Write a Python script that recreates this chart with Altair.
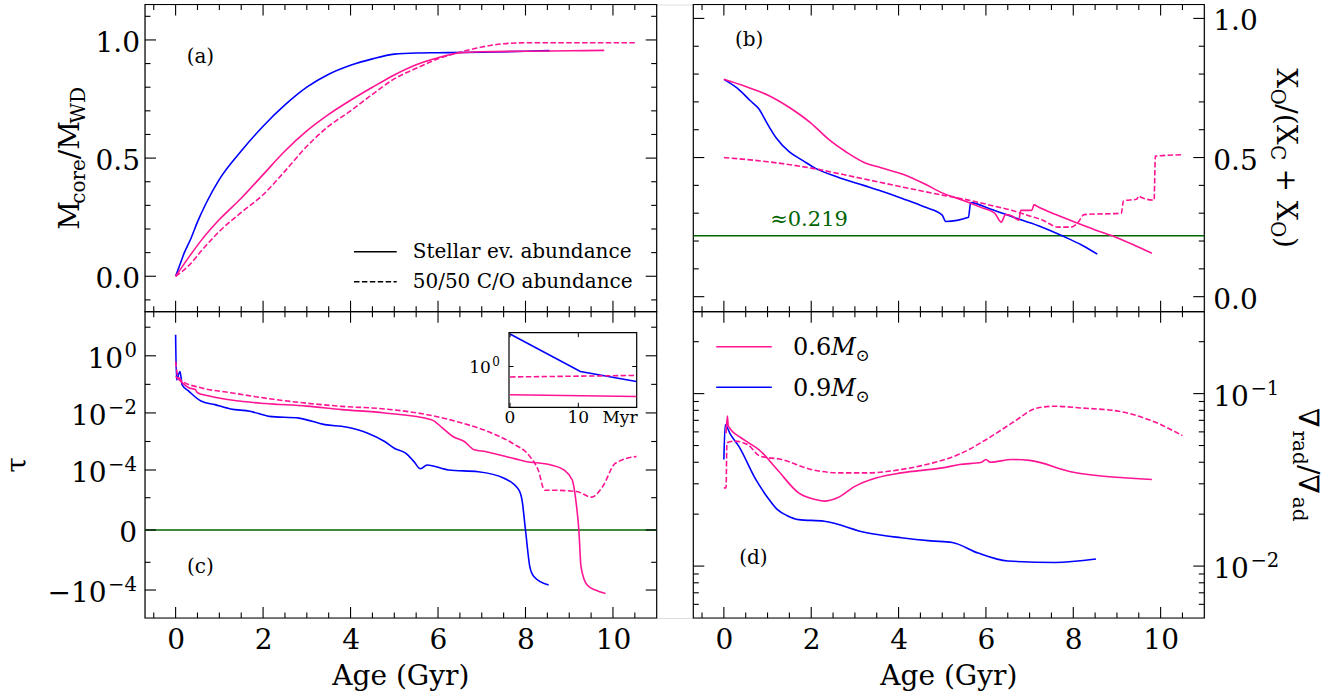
import altair as alt
import pandas as pd

# ======================= DATA =======================
AGE_MAJOR = [0, 2, 4, 6, 8, 10]
AGE_MINOR = [-0.5, 0.5, 1, 1.5, 2.5, 3, 3.5, 4.5, 5, 5.5, 6.5, 7, 7.5, 8.5, 9, 9.5, 10.5]

# (a) M_core / M_WD
A_BLUE_X = [0, 0.1, 0.2, 0.35, 0.5, 0.7, 1.0, 1.5, 2.0, 2.5, 3.0, 3.5, 4.0, 4.5, 5.0, 5.5, 6.0, 7.0, 8.0, 8.55]
A_BLUE_Y = [0, 0.05, 0.10, 0.16, 0.23, 0.31, 0.41, 0.53, 0.635, 0.725, 0.80, 0.855, 0.893, 0.92, 0.94, 0.945, 0.946, 0.948, 0.952, 0.955]
A_PINK_X = [0, 0.3, 0.6, 1.0, 1.5, 2.0, 2.5, 3.0, 3.5, 4.0, 4.5, 5.0, 5.5, 6.0, 6.5, 7.0, 8.0, 9.0, 9.8]
A_PINK_Y = [0, 0.08, 0.155, 0.24, 0.33, 0.43, 0.53, 0.615, 0.685, 0.745, 0.80, 0.852, 0.895, 0.925, 0.946, 0.95, 0.952, 0.954, 0.956]
A_PINKD_X = [0, 0.3, 0.6, 1.0, 1.5, 2.0, 2.5, 3.0, 3.5, 4.0, 4.5, 5.0, 5.5, 6.0, 6.5, 7.0, 7.5, 8.0, 9.0, 10.5]
A_PINKD_Y = [0, 0.045, 0.11, 0.19, 0.27, 0.345, 0.445, 0.55, 0.635, 0.70, 0.77, 0.835, 0.88, 0.92, 0.948, 0.97, 0.984, 0.988, 0.988, 0.988]
A_Y_MAJOR = [0, 0.5, 1.0]
A_Y_LABELS = ["0.0", "0.5", "1.0"]
A_Y_MINOR = [-0.1, 0.1, 0.2, 0.3, 0.4, 0.6, 0.7, 0.8, 0.9, 1.1]

# (b) X_O/(X_C+X_O)
B_BLUE_X = [0, 0.3, 0.6, 0.8, 1.0, 1.2, 1.5, 1.8, 2.1, 2.6, 3.2, 3.6, 4.1, 4.6, 5.0, 5.08, 5.6, 5.65, 6.1, 6.6, 7.2, 7.8, 8.2, 8.55]
B_BLUE_Y = [0.781, 0.75, 0.705, 0.675, 0.62, 0.57, 0.52, 0.49, 0.461, 0.43, 0.40, 0.38, 0.352, 0.322, 0.293, 0.27, 0.285, 0.338, 0.315, 0.287, 0.255, 0.215, 0.185, 0.153]
B_PINK_X = [0, 0.5, 1.0, 1.5, 2.0, 2.4, 2.8, 3.2, 3.6, 4.1, 4.6, 5.0, 5.5, 5.9, 6.2, 6.35, 6.45, 6.6, 6.75, 6.8, 7.05, 7.1, 7.2, 7.6, 8.0, 8.5, 9.0, 9.4, 9.8]
B_PINK_Y = [0.781, 0.755, 0.725, 0.68, 0.623, 0.565, 0.52, 0.483, 0.463, 0.44, 0.405, 0.373, 0.345, 0.32, 0.30, 0.268, 0.295, 0.29, 0.275, 0.31, 0.31, 0.33, 0.322, 0.295, 0.27, 0.24, 0.212, 0.185, 0.156]
B_PINKD_X = [0, 1, 2, 3, 4, 5, 5.6, 6.2, 6.6, 7.0, 7.3, 7.65, 7.95, 8.1, 8.25, 9.1, 9.15, 9.45, 9.5, 9.55, 9.85, 9.88, 10.5]
B_PINKD_Y = [0.50, 0.485, 0.462, 0.43, 0.397, 0.365, 0.347, 0.325, 0.31, 0.29, 0.275, 0.25, 0.25, 0.265, 0.295, 0.30, 0.345, 0.35, 0.362, 0.357, 0.347, 0.505, 0.51]
B_THRESHOLD = 0.219
B_Y_MAJOR = [0, 0.5, 1.0]
B_Y_LABELS = ["0.0", "0.5", "1.0"]
B_Y_MINOR = [0.1, 0.2, 0.3, 0.4, 0.6, 0.7, 0.8, 0.9]

# (c) tau (symmetric log)
C_BLUE_X = [0, 0.02, 0.1, 0.15, 0.3, 0.58, 0.9, 1.26, 1.7, 2.14, 2.82, 3.41, 3.9, 4.38, 4.78, 5.0, 5.26, 5.45, 5.6, 5.75, 6.24, 6.92, 7.51, 7.85, 7.92, 8.0, 8.1, 8.19, 8.53]
C_BLUE_Y = [5.4, 0.144, 0.28, 0.096, 0.058, 0.026, 0.0195, 0.0138, 0.0115, 0.0076, 0.0066, 0.0039, 0.0032, 0.0020, 0.0010, 5.8e-4, 3.9e-4, 1.97e-4, 1.1e-4, 1.5e-4, 1.0e-4, 8.7e-5, 5.1e-5, 1.9e-5, 8.2e-6, 0, -1.49e-5, -3.3e-5, -6.7e-5]
C_PINK_X = [0, 0.15, 0.3, 0.45, 0.5, 0.77, 1.46, 2.04, 3.0, 3.8, 4.78, 5.85, 6.1, 6.34, 6.6, 6.83, 7.1, 7.51, 8.0, 8.58, 8.88, 9.07, 9.15, 9.22, 9.27, 9.41, 9.6, 9.83]
C_PINK_Y = [0.19, 0.115, 0.076, 0.066, 0.051, 0.039, 0.026, 0.0214, 0.0173, 0.0131, 0.010, 0.0058, 0.0030, 0.0015, 0.001, 5.1e-4, 4.4e-4, 3.1e-4, 2.0e-4, 1.5e-4, 1.0e-4, 4.4e-5, 8.2e-6, 0, -1.49e-5, -6.7e-5, -1.0e-4, -1.32e-4]
C_PINKD_X = [0, 0.05, 0.15, 0.58, 1.26, 2.24, 3.8, 4.78, 5.75, 6.53, 7.22, 7.7, 8.1, 8.29, 8.44, 8.58, 9.17, 9.51, 9.76, 10.05, 10.54]
C_PINKD_Y = [0.63, 0.2, 0.13, 0.076, 0.051, 0.030, 0.017, 0.0138, 0.0087, 0.0045, 0.0020, 8.7e-4, 3.0e-4, 1.0e-4, 1.9e-5, 1.9e-5, 1.7e-5, 1.05e-5, 2.5e-5, 1.7e-4, 3.0e-4]
C_Y_MAJOR = [-1e-4, 0, 1e-4, 1e-2, 1]
C_Y_BASE = ["\u221210", "0", "10", "10", "10"]
C_Y_EXP = ["\u22124", "", "\u22124", "\u22122", "0"]
C_Y_MINOR = [-1e-5, 1e-5, 1e-3, 1e-1, 10]
C_ZERO = 0

# (c) inset, first Myr
IN_BLUE_X = [0, 10.3, 18.5]
IN_BLUE_Y = [5.4, 0.77, 0.46]
IN_PINK_X = [0, 18.5]
IN_PINK_Y = [0.23, 0.21]
IN_PINKD_X = [0, 18.5]
IN_PINKD_Y = [0.58, 0.63]
IN_X_TICKS = [0, 10]
IN_X_LABEL_POS = [0, 10, 16.1]
IN_X_LABELS = ["0", "10", "Myr"]
IN_Y_TICKS = [1]
IN_Y_BASE = ["10"]
IN_Y_EXP = ["0"]

# (d) grad_rad / grad_ad (log)
D_BLUE_X = [0, 0.03, 0.15, 0.34, 0.73, 1.0, 1.22, 1.45, 1.71, 2.30, 3.27, 4.06, 4.74, 5.23, 5.82, 6.5, 7.58, 8.52]
D_BLUE_Y = [0.0415, 0.066, 0.058, 0.0496, 0.0318, 0.025, 0.0213, 0.0196, 0.0186, 0.0182, 0.0156, 0.0146, 0.0140, 0.0137, 0.0119, 0.0107, 0.0105, 0.0110]
D_PINK_X = [0.05, 0.08, 0.1, 0.4, 0.55, 0.8, 1.22, 1.71, 2.1, 2.3, 2.6, 3.0, 3.5, 4.06, 5.0, 5.4, 5.9, 6.0, 6.1, 6.6, 7.0, 8.0, 9.8]
D_PINK_Y = [0.059, 0.074, 0.065, 0.0553, 0.0522, 0.0474, 0.0363, 0.0266, 0.0243, 0.0238, 0.0249, 0.029, 0.0325, 0.0347, 0.0371, 0.0388, 0.040, 0.0415, 0.040, 0.0415, 0.041, 0.035, 0.0318]
D_PINKD_X = [0, 0.05, 0.07, 0.24, 0.54, 0.83, 1.32, 2.0, 2.69, 3.27, 4.06, 4.64, 5.43, 6.01, 6.6, 7.18, 7.58, 8.16, 9.04, 9.82, 10.5]
D_PINKD_Y = [0.0284, 0.0284, 0.0518, 0.053, 0.0507, 0.0434, 0.0415, 0.0363, 0.0347, 0.0347, 0.0363, 0.0388, 0.045, 0.0542, 0.0676, 0.0826, 0.0845, 0.0826, 0.079, 0.0692, 0.0571]
D_Y_MAJOR = [0.01, 0.1]
D_Y_BASE = ["10", "10"]
D_Y_EXP = ["\u22122", "\u22121"]
D_Y_MINOR = [0.006, 0.007, 0.008, 0.009, 0.02, 0.03, 0.04, 0.05, 0.06, 0.07, 0.08, 0.09, 0.2]

# ======================= LAYOUT / STYLE =======================
PAGE_W, PAGE_H = 1341, 696
LEFT, TOP, RIGHT_EDGE, BOTTOM_EDGE = 145.0, 4.5, 1204.3, 618.0
W = RIGHT_EDGE - LEFT
H = BOTTOM_EDGE - TOP
COL_L = (0.0, 511.7)
COL_R = (548.3, W)
ROW_T = (0.0, 307.2)
ROW_B = (307.2, H)
INSET_X = (364.0, 491.7)
INSET_Y = (328.2, 402.8)

X_DOMAIN = [-0.7, 11.0]
A_DOMAIN = [-0.15, 1.15]
B_DOMAIN = [-0.054, 1.05]
C_DOMAIN = [-9.6e-4, 34.9]
C_CONST = 8e-7
D_DOMAIN = [0.005, 0.2985]
IN_X_DOMAIN = [-0.15, 18.55]
IN_Y_DOMAIN = [0.12, 5.8]

FONT = "DejaVu Serif"
PINK = "#ff1493"
BLUE = "#0000ff"
GREEN = "#006400"
DASH = [5.5, 2.4]
LW = 1.6
FRAME_W = 1.2
TICK_W = 1.1
MAJ, MIN = 11, 5.5
TICK_FS = 28
EXP_FS = 19.6
ONE = pd.DataFrame({"k": [0]})

CHAR_EM = {"M": 0.93, "c": 0.56, "o": 0.60, "r": 0.48, "e": 0.59, "/": 0.34, "W": 1.03, "D": 0.83,
           "X": 0.72, "O": 0.79, "(": 0.39, ")": 0.39, "C": 0.73, "+": 0.84, " ": 0.32, "a": 0.60,
           "d": 0.64, "\u2207": 0.80, ".": 0.32, "\u2299": 0.84, "\u2212": 0.84,
           **{str(i): 0.636 for i in range(10)}}


def text_len(s, size, style="normal"):
    f = 1.08 if style == "italic" else 1.0
    return size * f * sum(CHAR_EM.get(ch, 0.6) for ch in s)


def lin(dom, rng):
    return alt.Scale(type="linear", domain=list(dom), range=list(rng), nice=False, zero=False)


def axis(orient, values, pad, fmt):
    return alt.Axis(orient=orient, values=values, ticks=False, domain=False, grid=False,
                    labelFont=FONT, labelFontSize=TICK_FS, labelColor="black", labelPadding=pad,
                    labelFlush=False, labelOverlap=False, format=fmt, title=None)


def line(xs, ys, sx, sy, ax, ay, color, dashed=False, smooth=True):
    df = pd.DataFrame({"age": xs, "val": ys, "i": list(range(len(xs)))})
    kw = dict(color=color, strokeWidth=LW, clip=False)
    if smooth:
        kw["interpolate"] = "monotone"
    if dashed:
        kw["strokeDash"] = DASH
    return alt.Chart(df).mark_line(**kw).encode(
        x=alt.X("age:Q", scale=sx, axis=ax), y=alt.Y("val:Q", scale=sy, axis=ay), order="i:Q")


def frame(sx, sy, ax, ay, xd, yd, fill=None):
    df = pd.DataFrame({"age": [xd[0]], "age2": [xd[1]], "val": [yd[0]], "val2": [yd[1]]})
    kw = dict(stroke="black", strokeWidth=FRAME_W)
    if fill:
        kw["fill"] = fill
    else:
        kw["fillOpacity"] = 0
    return alt.Chart(df).mark_rect(**kw).encode(
        x=alt.X("age:Q", scale=sx, axis=ax), x2="age2:Q", y=alt.Y("val:Q", scale=sy, axis=ay), y2="val2:Q")


def hline(value, sx, sy, ax, ay, xd):
    df = pd.DataFrame({"age": [xd[0]], "age2": [xd[1]], "val": [value]})
    return alt.Chart(df).mark_rule(color=GREEN, strokeWidth=1.6).encode(
        x=alt.X("age:Q", scale=sx, axis=ax), x2="age2:Q", y=alt.Y("val:Q", scale=sy, axis=ay))


def yticks(vals, sy, ay, xr, length, w=TICK_W):
    df = pd.DataFrame({"val": vals})
    base = alt.Chart(df).mark_rule(color="black", strokeWidth=w)
    return [base.encode(y=alt.Y("val:Q", scale=sy, axis=ay), x=alt.value(xr[0]), x2=alt.value(xr[0] + length)),
            base.encode(y=alt.Y("val:Q", scale=sy, axis=ay), x=alt.value(xr[1] - length), x2=alt.value(xr[1]))]


def xticks(vals, sx, ax, yr, length, w=TICK_W):
    df = pd.DataFrame({"age": vals})
    base = alt.Chart(df).mark_rule(color="black", strokeWidth=w)
    return [base.encode(x=alt.X("age:Q", scale=sx, axis=ax), y=alt.value(yr[1] - length), y2=alt.value(yr[1])),
            base.encode(x=alt.X("age:Q", scale=sx, axis=ax), y=alt.value(yr[0]), y2=alt.value(yr[0] + length))]


def all_ticks(sx, sy, ax, ay, xr, yr, ymaj, ymin):
    return (xticks(AGE_MAJOR, sx, ax, yr, MAJ) + xticks(AGE_MINOR, sx, ax, yr, MIN)
            + yticks(ymaj, sy, ay, xr, MAJ) + yticks(ymin, sy, ay, xr, MIN))


def ylabels(vals, bases, exps, scale, side, edge, fs=TICK_FS, efs=EXP_FS, drop=12.0, raise_=11.0):
    """Tick labels with true superscripts; y through the panel's scale."""
    rows_b, rows_e = [], []
    for v, b, e in zip(vals, bases, exps):
        bw, ew = text_len(b, fs), (text_len(e, efs) + 1.5 if e else 0.0)
        if side == "left":
            rows_b.append({"val": v, "t": b, "px": edge - bw - ew})
            if e:
                rows_e.append({"val": v, "t": e, "px": edge - ew + 1.5})
        else:
            rows_b.append({"val": v, "t": b, "px": edge})
            if e:
                rows_e.append({"val": v, "t": e, "px": edge + bw + 1.5})
    out = [alt.Chart(pd.DataFrame(rows_b)).mark_text(font=FONT, fontSize=fs, align="left", baseline="alphabetic",
                                                     dy=drop, color="black").encode(
        x=alt.X("px:Q", scale=None, axis=None), y=alt.Y("val:Q", scale=scale, axis=None), text="t:N")]
    if rows_e:
        out.append(alt.Chart(pd.DataFrame(rows_e)).mark_text(font=FONT, fontSize=efs, align="left", baseline="alphabetic",
                                                             dy=drop - raise_, color="black").encode(
            x=alt.X("px:Q", scale=None, axis=None), y=alt.Y("val:Q", scale=scale, axis=None), text="t:N"))
    return out


# ---------------- panel (a)
XA = lin(X_DOMAIN, COL_L)
YA = lin(A_DOMAIN, (ROW_T[1], ROW_T[0]))
pa = alt.layer(
    frame(XA, YA, None, None, X_DOMAIN, A_DOMAIN),
    line(A_BLUE_X, A_BLUE_Y, XA, YA, None, None, BLUE),
    line(A_PINKD_X, A_PINKD_Y, XA, YA, None, None, PINK, True),
    line(A_PINK_X, A_PINK_Y, XA, YA, None, None, PINK),
    *all_ticks(XA, YA, None, None, COL_L, ROW_T, A_Y_MAJOR, A_Y_MINOR),
)

# ---------------- panel (b)
XB = lin(X_DOMAIN, COL_R)
YB = lin(B_DOMAIN, (ROW_T[1], ROW_T[0]))
pb = alt.layer(
    frame(XB, YB, None, None, X_DOMAIN, B_DOMAIN),
    hline(B_THRESHOLD, XB, YB, None, None, X_DOMAIN),
    line(B_BLUE_X, B_BLUE_Y, XB, YB, None, None, BLUE),
    line(B_PINKD_X, B_PINKD_Y, XB, YB, None, None, PINK, True),
    line(B_PINK_X, B_PINK_Y, XB, YB, None, None, PINK),
    *all_ticks(XB, YB, None, None, COL_R, ROW_T, B_Y_MAJOR, B_Y_MINOR),
)

# ---------------- panel (c)
XC = lin(X_DOMAIN, COL_L)
YC = alt.Scale(type="symlog", constant=C_CONST, domain=C_DOMAIN, range=[ROW_B[1], ROW_B[0]], nice=False, zero=False)
AXC = axis("bottom", AGE_MAJOR, 8, "d")
pc = alt.layer(
    frame(XC, YC, AXC, None, X_DOMAIN, C_DOMAIN),
    hline(C_ZERO, XC, YC, AXC, None, X_DOMAIN),
    line(C_BLUE_X, C_BLUE_Y, XC, YC, AXC, None, BLUE),
    line(C_PINKD_X, C_PINKD_Y, XC, YC, AXC, None, PINK, True),
    line(C_PINK_X, C_PINK_Y, XC, YC, AXC, None, PINK),
    *all_ticks(XC, YC, AXC, None, COL_L, ROW_B, C_Y_MAJOR, C_Y_MINOR),
)

# ---------------- panel (d)
XD = lin(X_DOMAIN, COL_R)
YD = alt.Scale(type="log", domain=D_DOMAIN, range=[ROW_B[1], ROW_B[0]], nice=False)
AXD = axis("bottom", AGE_MAJOR, 8, "d")
pd_ = alt.layer(
    frame(XD, YD, AXD, None, X_DOMAIN, D_DOMAIN),
    line(D_BLUE_X, D_BLUE_Y, XD, YD, AXD, None, BLUE),
    line(D_PINKD_X, D_PINKD_Y, XD, YD, AXD, None, PINK, True),
    line(D_PINK_X, D_PINK_Y, XD, YD, AXD, None, PINK),
    *all_ticks(XD, YD, AXD, None, COL_R, ROW_B, D_Y_MAJOR, D_Y_MINOR),
)

# ---------------- inset in (c)
XI = lin(IN_X_DOMAIN, INSET_X)
YI = alt.Scale(type="log", domain=IN_Y_DOMAIN, range=[INSET_Y[1], INSET_Y[0]], nice=False)
in_xlab = alt.Chart(pd.DataFrame({"age": IN_X_LABEL_POS, "lab": IN_X_LABELS})).mark_text(
    font=FONT, fontSize=17, align="center", baseline="middle", color="black").encode(
    x=alt.X("age:Q", scale=XI, axis=None), y=alt.value(INSET_Y[1] + 11), text="lab:N")
pin = alt.layer(
    frame(XI, YI, None, None, IN_X_DOMAIN, IN_Y_DOMAIN, fill="white"),
    line(IN_BLUE_X, IN_BLUE_Y, XI, YI, None, None, BLUE, smooth=False),
    line(IN_PINKD_X, IN_PINKD_Y, XI, YI, None, None, PINK, True, smooth=False),
    line(IN_PINK_X, IN_PINK_Y, XI, YI, None, None, PINK, smooth=False),
    *xticks(IN_X_TICKS, XI, None, INSET_Y, 4.5, 1.0),
    *yticks(IN_Y_TICKS, YI, None, INSET_X, 4.5, 1.0),
    in_xlab,
)

# ---------------- tick labels of the y axes
labels = []
labels += ylabels(A_Y_MAJOR, A_Y_LABELS, ["", "", ""], YA, "left", -5.0)
labels += ylabels(B_Y_MAJOR, B_Y_LABELS, ["", "", ""], YB, "right", W + 9.0)
labels += ylabels(C_Y_MAJOR, C_Y_BASE, C_Y_EXP, YC, "left", -8.0)
labels += ylabels(D_Y_MAJOR, D_Y_BASE, D_Y_EXP, YD, "right", W + 9.0)
labels += ylabels(IN_Y_TICKS, IN_Y_BASE, IN_Y_EXP, YI, "left", INSET_X[0] - 9.0, fs=17, efs=12, drop=6.5, raise_=7.0)


# ---------------- texts (titles, panel letters, legends)
def rich(pieces, x, y, angle, centered, color="black"):
    adv = {0: (1, 0), 90: (0, 1), 270: (0, -1)}[angle]
    down = {0: (0, 1), 90: (-1, 0), 270: (1, 0)}[angle]
    lens = [text_len(t, s, st) for t, s, _, st in pieces]
    off = -sum(lens) / 2 if centered else 0.0
    out = []
    for (t, s, sh, st), L in zip(pieces, lens):
        lead = len(t) - len(t.lstrip(" "))
        o = off + lead * CHAR_EM[" "] * s
        px = x + adv[0] * o + down[0] * sh
        py = y + adv[1] * o + down[1] * sh
        out.append(alt.Chart(ONE).mark_text(text=t.strip(" "), font=FONT, fontSize=s, fontStyle=st, angle=angle,
                                            align="left", baseline="alphabetic", color=color)
                   .encode(x=alt.value(px), y=alt.value(py)))
        off += L
    return out


def label(t, x, y, size, align="center", baseline="middle", angle=0, color="black"):
    return alt.Chart(ONE).mark_text(text=t, font=FONT, fontSize=size, align=align, baseline=baseline,
                                    angle=angle, color=color).encode(x=alt.value(x), y=alt.value(y))


def legend_line(x0, x1, y, color, dashed=False):
    kw = dict(color=color, strokeWidth=LW)
    if dashed:
        kw["strokeDash"] = DASH
    return alt.Chart(ONE).mark_rule(**kw).encode(x=alt.value(x0), x2=alt.value(x1), y=alt.value(y))


SUB = 5.5
texts = []
texts += rich([("M", 28, 0, "normal"), ("core", 20, SUB, "normal"), ("/M", 28, 0, "normal"), ("WD", 20, SUB, "normal")],
              -66.0, (ROW_T[0] + ROW_T[1]) / 2, 270, True)
texts += rich([("X", 28, 0, "normal"), ("O", 20, SUB, "normal"), ("/(X", 28, 0, "normal"), ("C", 20, SUB, "normal"),
               (" + X", 28, 0, "normal"), ("O", 20, SUB, "normal"), (")", 28, 0, "normal")],
              1131.7, (ROW_T[0] + ROW_T[1]) / 2, 90, True)
texts += rich([("\u2207", 28, 0, "normal"), ("rad", 20, SUB, "normal"), ("/\u2207", 28, 0, "normal"), ("ad", 20, SUB, "normal")],
              1153.5, (ROW_B[0] + ROW_B[1]) / 2, 90, True)
texts.append(label("\u03c4", -126.7, 460.5, 28, angle=270))
texts.append(label("Age (Gyr)", (COL_L[0] + COL_L[1]) / 2, 680.5, 28, baseline="alphabetic"))
texts.append(label("Age (Gyr)", (COL_R[0] + COL_R[1]) / 2, 680.5, 28, baseline="alphabetic"))
texts.append(label("(a)", 55.4, 52.2, 20))
texts.append(label("(b)", 604.1, 35.5, 20))
texts.append(label("(c)", 55.4, 562.2, 20))
texts.append(label("(d)", 608.4, 553.8, 20))
texts.append(label("\u22480.219", 664.0, 215.5, 21, color=GREEN))
# legend (a)
texts.append(legend_line(209.0, 251.7, 247.2, "black"))
texts.append(legend_line(209.0, 251.7, 277.2, "black", True))
texts.append(label("Stellar ev. abundance", 267.7, 247.2, 20, align="left"))
texts.append(label("50/50 C/O abundance", 267.7, 277.2, 20, align="left"))
# legend (d)
texts.append(legend_line(571.2, 626.8, 342.2, PINK))
texts.append(legend_line(571.2, 626.8, 382.8, BLUE))
texts += rich([("0.6", 24, 0, "normal"), ("M", 24, 0, "italic"), ("\u2299", 17, 6, "normal")], 648.1, 350.5, 0, False)
texts += rich([("0.9", 24, 0, "normal"), ("M", 24, 0, "italic"), ("\u2299", 17, 6, "normal")], 648.1, 391.0, 0, False)

chart = alt.layer(pa, pb, pc, pd_, pin, *labels, *texts).resolve_scale(
    x="independent", y="independent").resolve_axis(x="independent", y="independent").properties(
    width=W, height=H, autosize=alt.AutoSizeParams(type="none"),
    padding={"left": LEFT, "top": TOP, "right": PAGE_W - RIGHT_EDGE, "bottom": PAGE_H - BOTTOM_EDGE},
    background="white",
).configure_view(strokeWidth=0).configure(font=FONT)

chart.save("out.html", embed_options={"renderer": "svg", "actions": False})
